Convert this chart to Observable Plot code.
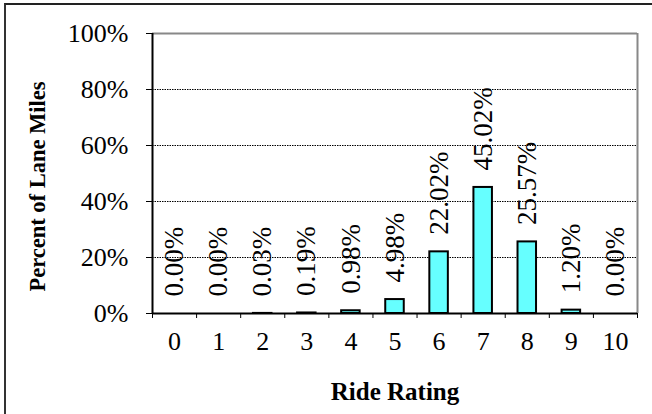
<!DOCTYPE html>
<html><head><meta charset="utf-8">
<script src="https://cdn.jsdelivr.net/npm/d3@7"></script>
<script src="https://cdn.jsdelivr.net/npm/@observablehq/plot@0.6"></script>
<style>
body{margin:0;background:#fff;}
#wrap{position:relative;width:652px;height:414px;overflow:hidden;}
#frame{position:absolute;left:4px;top:3px;width:700px;height:500px;border-top:2px solid #222;border-left:2px solid #333;}
svg{position:absolute;left:0;top:0;}
</style></head>
<body><div id="wrap"><div id="frame"></div></div>
<script>
const ratings = [0,1,2,3,4,5,6,7,8,9,10];
const percents = [0.00,0.00,0.03,0.19,0.98,4.98,22.02,45.02,25.57,1.20,0.00];
const labels = ["0.00%","0.00%","0.03%","0.19%","0.98%","4.98%","22.02%","45.02%","25.57%","1.20%","0.00%"];
const yTicks = [0,20,40,60,80,100];
const gridTicks = [20,40,60,80];
const data = ratings.map((r,i)=>({r, pct: percents[i], label: labels[i]}));
const halfBar = 0.21;
const boundaries = ratings.concat([11]).map(v=>v-0.5);
const font = "Liberation Serif, Times New Roman, serif";

const chart = Plot.plot({
  width: 652, height: 414,
  marginLeft: 152, marginRight: 15, marginTop: 33, marginBottom: 101,
  style: {fontFamily: font, fontSize: "25px", background: "transparent", color: "black"},
  x: {type: "linear", domain: [-0.5, 10.5]},
  y: {domain: [0, 100]},
  marks: [
    Plot.ruleY(gridTicks, {stroke: "black", strokeWidth: 1, strokeDasharray: "1.5,1"}),
    Plot.ruleY([100], {stroke: "#888", strokeWidth: 2}),
    Plot.ruleX([10.5], {stroke: "#888", strokeWidth: 2}),
    Plot.rectY(data, {x1: d => d.r - halfBar, x2: d => d.r + halfBar, y: "pct", fill: "#66ffff", stroke: "black", strokeWidth: 2}),
    Plot.text(data, {x: "r", y: "pct", text: "label", rotate: -90, textAnchor: "start", lineAnchor: "middle", dy: -17, fontSize: 27, fontFamily: font}),
    Plot.axisY({ticks: yTicks, tickFormat: d => d + "%", tickSize: 6, tickPadding: 18, fontSize: 26, label: null}),
    Plot.axisX({ticks: boundaries, tickFormat: () => "", tickSize: 5, label: null}),
    Plot.axisX({ticks: ratings, tickFormat: d => String(d), tickSize: 0, tickPadding: 18, fontSize: 26, label: null}),
    Plot.ruleX([-0.5], {stroke: "black", strokeWidth: 2}),
    Plot.ruleY([0], {stroke: "black", strokeWidth: 2}),
    Plot.text(["Ride Rating"], {frameAnchor: "bottom", dy: 86, fontWeight: "bold", fontSize: 25, fontFamily: font}),
    Plot.text(["Percent of Lane Miles"], {frameAnchor: "left", dx: -115, dy: 13, rotate: -90, textAnchor: "middle", lineAnchor: "middle", fontWeight: "bold", fontSize: 22.5, fontFamily: font})
  ]
});
document.getElementById("wrap").appendChild(chart);
</script>
</body></html>
